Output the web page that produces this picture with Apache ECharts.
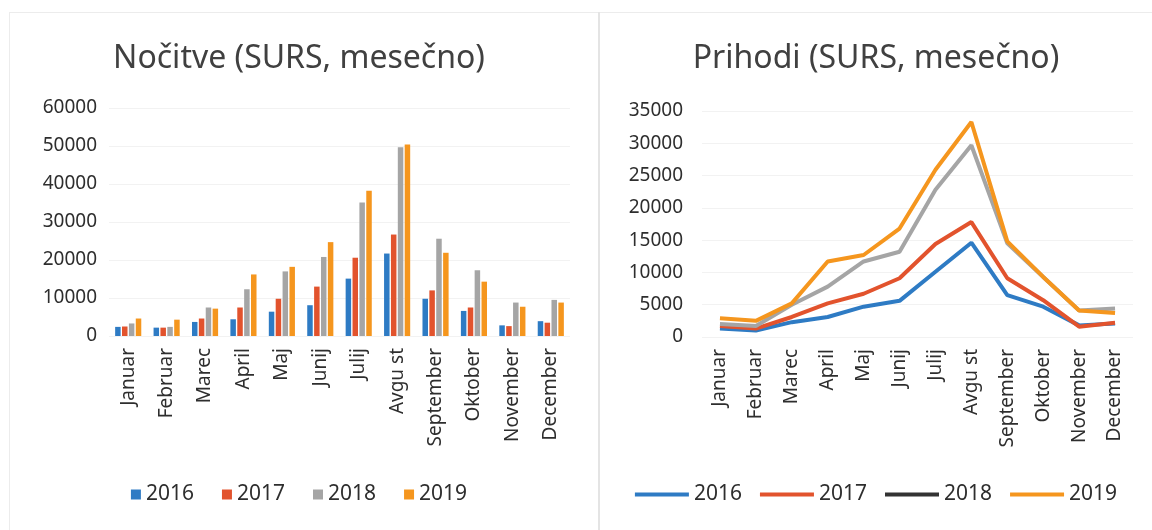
<!DOCTYPE html>
<html>
<head>
<meta charset="utf-8">
<script src="https://cdn.jsdelivr.net/npm/echarts@6/dist/echarts.min.js"></script>
<style>
  html, body { margin: 0; padding: 0; background: #fff; }
  #frame { position: absolute; left: 9px; top: 12px; width: 1143px; height: 518px;
           border-top: 1px solid #ececec; border-left: 1px solid #ececec; }
  #nights { position: absolute; left: 0; top: 0; width: 598px; height: 530px; }
  #divider { position: absolute; left: 598px; top: 12px; width: 2px; height: 518px; background: #e4e4e4; }
  #arrivals { position: absolute; left: 600px; top: 0; width: 552px; height: 530px; }
</style>
</head>
<body>
<div id="frame"></div>
<div id="nights"></div>
<div id="divider"></div>
<div id="arrivals"></div>
<script>
// meseci
const months = ['Januar', 'Februar', 'Marec', 'April', 'Maj', 'Junij', 'Julij',
  'Avgu st', 'September', 'Oktober', 'November', 'December'];
const years = ['2016', '2017', '2018', '2019'];
const colors = ['#2e7bc4', '#e2532d', '#a5a5a5', '#f5961e'];

// Nočitve
const nights2016 = [2400, 2200, 3700, 4400, 6400, 8100, 15100, 21700, 9800, 6600, 2800, 3900];
const nights2017 = [2500, 2200, 4600, 7500, 9800, 13000, 20600, 26700, 12000, 7500, 2600, 3500];
const nights2018 = [3300, 2400, 7500, 12300, 17000, 20800, 35100, 49700, 25600, 17300, 8800, 9500];
const nights2019 = [4600, 4300, 7200, 16200, 18200, 24700, 38200, 50400, 21900, 14300, 7700, 8800];

// Prihodi
const arrivals2016 = [1300, 1000, 2300, 3100, 4700, 5600, 10100, 14600, 6500, 4700, 1800, 2100];
const arrivals2017 = [1700, 1300, 3100, 5200, 6700, 9100, 14400, 17800, 9100, 5700, 1600, 2200];
const arrivals2018 = [2000, 1700, 5000, 7800, 11700, 13200, 22800, 29700, 14500, 9300, 4100, 4400];
const arrivals2019 = [2900, 2500, 5200, 11700, 12700, 16800, 25900, 33300, 14800, 9300, 4100, 3700];

const font = '"Noto Sans", "Open Sans", sans-serif';
const textColor = '#2e2e2e';

function xAxisCfg(labels) {
  return {
    type: 'category',
    data: labels,
    axisLine: { show: false },
    axisTick: { show: false },
    axisLabel: { rotate: 90, margin: 12, fontSize: 19, color: textColor, fontFamily: font }
  };
}
function yAxisCfg(max, interval, margin) {
  return {
    type: 'value',
    min: 0, max: max, interval: interval,
    axisLine: { show: false },
    axisTick: { show: false },
    splitLine: { lineStyle: { color: '#f2f2f2' } },
    axisLabel: {
      fontSize: 19, color: textColor, fontFamily: font, margin: margin,
      formatter: v => String(v)
    }
  };
}

// levi graf - stolpci
const nightsChart = echarts.init(document.getElementById('nights'));
const nightsData = [nights2016, nights2017, nights2018, nights2019];
nightsChart.setOption({
  animation: false,
  title: {
    text: 'Nočitve (SURS, mesečno)',
    left: 'center', top: 38,
    textStyle: { fontSize: 32, fontWeight: 'normal', color: '#404040', fontFamily: font }
  },
  legend: {
    bottom: 20, left: 'center',
    icon: 'rect', itemWidth: 10, itemHeight: 10, itemGap: 28,
    textStyle: { fontSize: 21, color: textColor, fontFamily: font }
  },
  grid: { left: 109, right: 28, top: 108, bottom: 194 },
  xAxis: xAxisCfg(months),
  yAxis: yAxisCfg(60000, 10000, 12),
  series: years.map((y, i) => ({
    name: y, type: 'bar',
    barWidth: 5.5, barGap: '25%',
    itemStyle: { color: colors[i] },
    data: nightsData[i]
  }))
});

// desni graf - črte
const arrivalsChart = echarts.init(document.getElementById('arrivals'));
const arrivalsData = [arrivals2016, arrivals2017, arrivals2018, arrivals2019];
arrivalsChart.setOption({
  animation: false,
  title: {
    text: 'Prihodi (SURS, mesečno)',
    left: 'center', top: 38,
    textStyle: { fontSize: 32, fontWeight: 'normal', color: '#404040', fontFamily: font }
  },
  legend: {
    bottom: 20, left: 'center',
    itemWidth: 54, itemHeight: 4, itemGap: 18,
    textStyle: { fontSize: 21, color: textColor, fontFamily: font },
    data: years.map(y => y === '2018'
      ? { name: y, icon: 'rect', itemStyle: { color: '#333' } }
      : { name: y, icon: 'rect' })
  },
  grid: { left: 102, right: 19, top: 111, bottom: 193 },
  xAxis: Object.assign(xAxisCfg(months), { boundaryGap: true }),
  yAxis: yAxisCfg(35000, 5000, 19),
  series: years.map((y, i) => ({
    name: y, type: 'line',
    symbol: 'none',
    lineStyle: { width: 4, color: colors[i] },
    itemStyle: { color: colors[i] },
    data: arrivalsData[i]
  }))
});
</script>
</body>
</html>
